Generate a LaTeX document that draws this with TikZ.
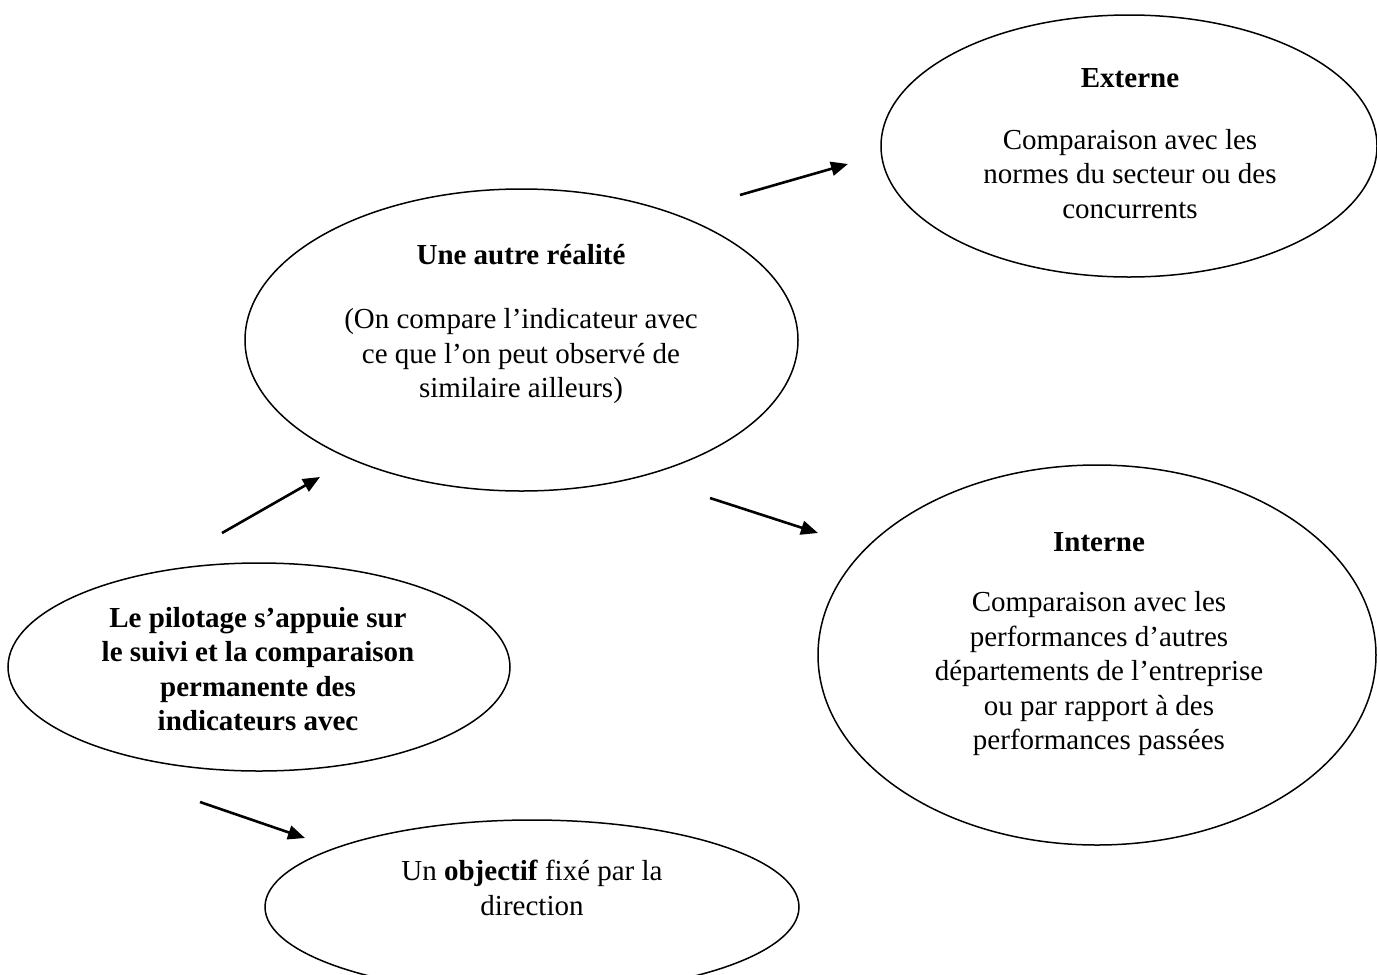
\documentclass[tikz,border=0pt]{standalone}
\usepackage{fontspec}
\setmainfont{Liberation Serif}
\usetikzlibrary{arrows.meta,shapes.geometric}
\begin{document}
\begin{tikzpicture}[x=1pt,y=-1pt,
  ell/.style={draw, ellipse, line width=1.5pt, inner sep=0pt},
  txt/.style={align=center, font=\fontsize{29}{34.5}\selectfont, inner sep=0pt},
  arr/.style={line width=2.6pt, -{Triangle[length=17pt,width=14pt]}}]
\useasboundingbox (0,0) rectangle (1377,975);

% ellipses
\node[ell, minimum width=502pt, minimum height=208pt] (pilot) at (259,667) {};
\node[ell, minimum width=553pt, minimum height=302pt] (autre) at (521.5,340) {};
\node[ell, minimum width=496pt, minimum height=262pt] (externe) at (1129,146) {};
\node[ell, minimum width=558pt, minimum height=380pt] (interne) at (1097,655) {};
\node[ell, minimum width=534pt, minimum height=174pt] (objectif) at (532,907) {};

% texts
\node[txt] (tpilot) at (258,669) {\bfseries Le pilotage s’appuie sur\\ \bfseries le suivi et la comparaison\\ \bfseries permanente des\\ \bfseries indicateurs avec};
\node[txt] (tautre) at (521,324) {\bfseries Une autre réalité\\[30pt] (On compare l’indicateur avec\\ ce que l’on peut observé de\\ similaire ailleurs)};
\node[txt] (texterne) at (1130,143.5) {\bfseries Externe\\[27pt] Comparaison avec les\\ normes du secteur ou des\\ concurrents};
\node[txt] (tinterne) at (1099,644) {\bfseries Interne\\[26pt] Comparaison avec les\\ performances d’autres\\ départements de l’entreprise\\ ou par rapport à des\\ performances passées};
\node[txt] (tobjectif) at (532,888) {Un \textbf{objectif} fixé par la\\ direction};

% connector ends
\coordinate (a1s) at (222,533); \coordinate (a1e) at (320,477);
\coordinate (a2s) at (740,195); \coordinate (a2e) at (848,164);
\coordinate (a3s) at (710,498); \coordinate (a3e) at (818,533);
\coordinate (a4s) at (200,802); \coordinate (a4e) at (305,838);

\draw[arr] (a1s) -- (a1e);
\draw[arr] (a2s) -- (a2e);
\draw[arr] (a3s) -- (a3e);
\draw[arr] (a4s) -- (a4e);
\end{tikzpicture}
\end{document}
